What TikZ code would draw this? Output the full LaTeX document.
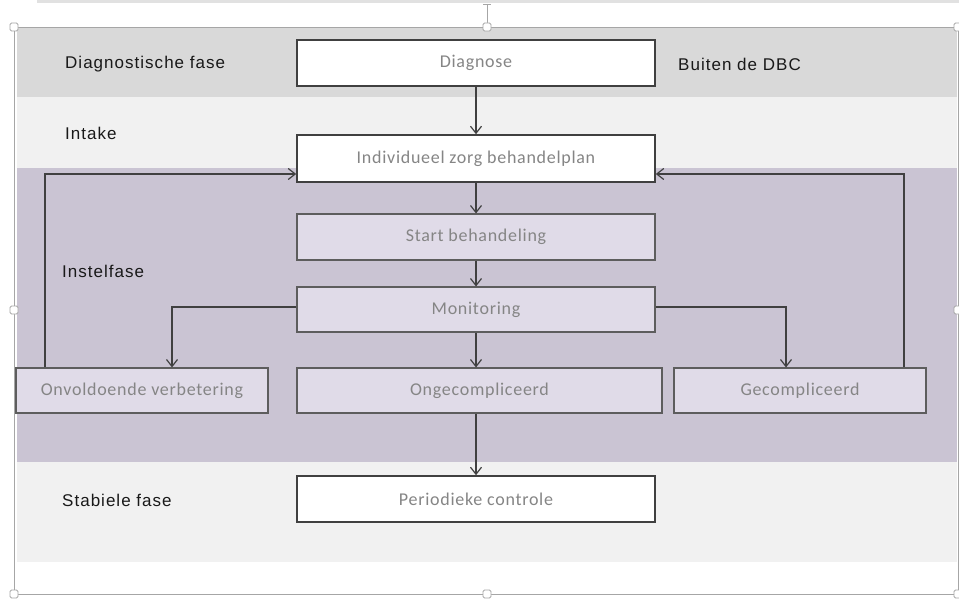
\documentclass[tikz,border=0pt]{standalone}
\usepackage{fontspec}
\setmainfont{Carlito}[LetterSpace=4]
\newfontfamily\labelfont{Liberation Sans}[LetterSpace=6]
\usetikzlibrary{arrows.meta,positioning,calc}
\definecolor{diagband}{HTML}{D9D9D9}
\definecolor{lightband}{HTML}{F1F1F1}
\definecolor{purpband}{HTML}{CAC4D3}
\definecolor{purpbox}{HTML}{E0DBE8}
\definecolor{edgec}{HTML}{404040}
\definecolor{boxtxt}{HTML}{858585}
\definecolor{framec}{HTML}{A6A6A6}
\tikzset{
  whitebox/.style={rectangle, draw=edgec, line width=1.6pt, fill=white, text=boxtxt,
    minimum width=358pt, minimum height=46pt, inner sep=0pt, font=\fontsize{18}{21}\selectfont},
  purpbox/.style={whitebox, fill=purpbox, draw=edgec!85, line width=1.1pt},
  phase/.style={anchor=west, inner sep=0pt, text=black!90, font=\labelfont\fontsize{17}{20}\selectfont},
  link/.style={-{Straight Barb[length=7pt,width=11pt]}, draw=edgec, line width=1.2pt},
  handle/.style={rectangle, rounded corners=1.5pt, draw=framec, fill=white, line width=0.8pt,
    minimum size=8pt, inner sep=0pt},
}
\begin{document}
\begin{tikzpicture}[x=1pt,y=-1pt]
  \useasboundingbox (0,0) rectangle (959,599);
  % bands
  \fill[diagband!80] (37,0) rectangle (959,3);
  \fill[diagband] (17,28) rectangle (957,97);
  \fill[lightband] (17,97) rectangle (957,168);
  \fill[purpband] (17,168) rectangle (957,462);
  \fill[lightband] (17,462) rectangle (957,562);
  % phase labels
  \node[phase] (diagfase) at (65,64) {Diagnostische fase};
  \node[phase] (buiten) at (678,64) {Buiten de DBC};
  \node[phase] (intake) at (65,133) {Intake};
  \node[phase] (instel) at (62,271) {Instelfase};
  \node[phase] (stabiel) at (62,500) {Stabiele fase};
  % boxes
  \node[whitebox] (diag) at (476,63) {Diagnose};
  \node[whitebox, minimum height=47pt] (plan) at (476,158.5) {Individueel zorg behandelplan};
  \node[purpbox] (start) at (476,237) {Start behandeling};
  \node[purpbox, minimum height=45pt] (mon) at (476,309.5) {Monitoring};
  \node[purpbox, minimum width=252pt, minimum height=45pt] (onv) at (142,390.5) {Onvoldoende verbetering};
  \node[purpbox, minimum width=365pt, minimum height=45pt] (ong) at (479.5,390.5) {Ongecompliceerd};
  \node[purpbox, minimum width=252pt, minimum height=45pt] (gec) at (800,390.5) {Gecompliceerd};
  \node[whitebox] (per) at (476,499) {Periodieke controle};
  % connectors
  \draw[link] (diag) -- (plan);
  \draw[link] (plan) -- (start);
  \draw[link] (start) -- (mon);
  \draw[link] (mon.south) -- (mon.south |- ong.north);
  \draw[link] (mon.south |- ong.south) -- (per);
  \draw[link] ([yshift=2.5pt]mon.west) -| ([xshift=30pt]onv.north);
  \draw[link] ([yshift=2.5pt]mon.east) -| ([xshift=-14pt]gec.north);
  \draw[link] ([xshift=-97pt]onv.north) |- ([yshift=-15.5pt]plan.west);
  \draw[link] ([xshift=104pt]gec.north) |- ([yshift=-15.5pt]plan.east);
  % selection frame
  \draw[framec, line width=0.8pt] (14,27) rectangle (958,594);
  \draw[framec, line width=0.8pt] (487,4) -- (487,27) (483,4) -- (491,4);
  \foreach \hx/\hy [count=\i] in {14/27,487/27,958/27,14/310,958/310,14/594,487/594,958/594}
    \node[handle] (h\i) at (\hx,\hy) {};
\end{tikzpicture}
\end{document}
